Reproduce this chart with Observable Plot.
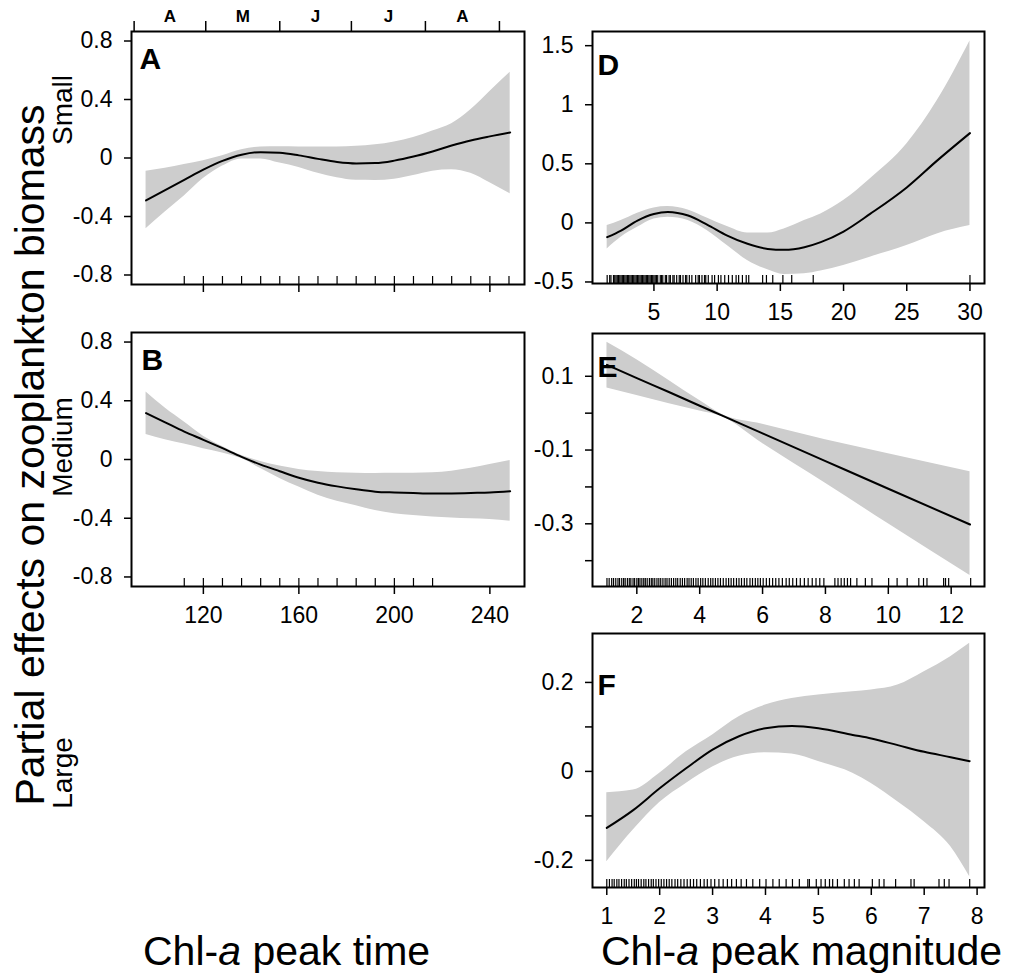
<!DOCTYPE html>
<html><head><meta charset="utf-8">
<script src="https://cdn.jsdelivr.net/npm/d3@7"></script>
<script src="https://cdn.jsdelivr.net/npm/@observablehq/plot@0.6"></script>
<style>
body{margin:0;background:#fff;}
#fig{position:relative;width:1009px;height:978px;font-family:"Liberation Sans",Arial,sans-serif;overflow:hidden;background:#fff;color:#000;}
#fig svg{position:absolute;}
.lab{position:absolute;white-space:nowrap;line-height:1;color:#000;}
.rot{transform:translate(-50%,-50%) rotate(-90deg);}
</style></head><body><div id="fig"></div>
<script>
// ---------- Data ----------
// Left column: Chl-a peak time (day of year)
const A_x   = [96, 104, 112, 120, 128, 136, 144, 152, 160, 168, 176, 184, 192, 200, 208, 216, 224, 232, 240, 248.5];
const A_fit = [-0.29, -0.22, -0.15, -0.08, -0.02, 0.022, 0.04, 0.036, 0.018, -0.006, -0.027, -0.037, -0.035, -0.018, 0.01, 0.045, 0.085, 0.12, 0.148, 0.175];
const A_hi  = [-0.09, -0.07, -0.045, -0.018, 0.016, 0.056, 0.075, 0.077, 0.076, 0.075, 0.076, 0.08, 0.09, 0.11, 0.14, 0.185, 0.235, 0.33, 0.455, 0.586];
const A_lo  = [-0.484, -0.37, -0.26, -0.141, -0.055, -0.006, -0.006, -0.035, -0.065, -0.105, -0.135, -0.152, -0.153, -0.145, -0.12, -0.09, -0.08, -0.105, -0.17, -0.245];
const A_rug = [112, 120, 128, 136, 144, 152, 160, 168, 176, 184, 192, 200, 208, 216, 224, 232, 240, 248];

const B_x   = A_x;
const B_fit = [0.316, 0.253, 0.19, 0.134, 0.077, 0.018, -0.035, -0.08, -0.124, -0.158, -0.183, -0.203, -0.219, -0.225, -0.229, -0.232, -0.231, -0.228, -0.225, -0.216];
const B_hi  = [0.459, 0.35, 0.255, 0.159, 0.089, 0.027, -0.013, -0.045, -0.068, -0.082, -0.09, -0.093, -0.095, -0.094, -0.093, -0.09, -0.08, -0.06, -0.034, -0.007];
const B_lo  = [0.17, 0.135, 0.105, 0.073, 0.045, 0.006, -0.062, -0.13, -0.188, -0.243, -0.285, -0.315, -0.348, -0.37, -0.382, -0.392, -0.399, -0.404, -0.409, -0.42];
const B_rug = [112, 120, 128, 136, 144, 152, 160, 168, 176, 184, 192, 200, 208, 216];

const monthStarts = [91, 121, 152, 182, 213, 244];
const monthMids   = [106, 136.5, 167, 197.5, 228.5];
const monthLabels = ["A", "M", "J", "J", "A"];
const timeTicks   = [120, 160, 200, 240];
const abTicksY    = [0.8, 0.4, 0, -0.4, -0.8];

// Right column: Chl-a peak magnitude
const D_x   = [1.3, 2.4, 3.7, 5.0, 6.1, 7.7, 9.2, 10.8, 12.4, 14.0, 15.3, 16.9, 18.2, 20.0, 22.1, 25.0, 27.4, 30.0];
const D_fit = [-0.121, -0.065, 0.02, 0.076, 0.093, 0.062, -0.014, -0.107, -0.177, -0.22, -0.228, -0.206, -0.163, -0.073, 0.076, 0.30, 0.527, 0.76];
const D_hi  = [-0.023, 0.02, 0.082, 0.127, 0.138, 0.11, 0.042, -0.031, -0.085, -0.085, -0.051, 0.02, 0.076, 0.189, 0.372, 0.668, 1.034, 1.54];
const D_lo  = [-0.22, -0.121, -0.037, 0.034, 0.048, 0.02, -0.065, -0.192, -0.318, -0.397, -0.437, -0.431, -0.408, -0.36, -0.29, -0.192, -0.093, -0.023];
const D_rug = [1.3,1.5,1.6,1.8,1.9,2.0,2.1,2.2,2.3,2.4,2.5,2.6,2.7,2.8,2.9,3.0,3.1,3.2,3.3,3.4,3.5,3.6,3.7,3.8,3.9,4.0,4.1,4.2,4.3,4.4,4.5,4.6,4.7,4.8,4.9,5.0,5.1,5.2,5.3,5.5,5.6,5.7,5.9,6.0,6.2,6.3,6.5,6.6,6.8,7.0,7.1,7.3,7.5,7.6,7.8,8.0,8.3,8.5,8.6,8.8,9.0,9.1,9.3,9.6,9.8,10.1,10.3,10.6,10.9,11.2,11.5,11.7,12.0,12.3,12.5,13.6,13.9,14.4,15.2,15.9,17.6,30.0];
const D_ticksX = [5, 10, 15, 20, 25, 30];
const D_ticksY = [1.5, 1, 0.5, 0, -0.5];

const E_x   = [1.05, 2, 3, 4, 4.7, 6, 8, 10, 12.6];
const E_fit = [0.131, 0.095, 0.058, 0.02, -0.006, -0.055, -0.13, -0.205, -0.302];
const E_hi  = [0.192, 0.145, 0.09, 0.034, -0.003, -0.03, -0.072, -0.11, -0.159];
const E_lo  = [0.068, 0.048, 0.026, 0.006, -0.009, -0.082, -0.19, -0.3, -0.44];
const E_rug = [1.05,1.12,1.2,1.26,1.33,1.4,1.45,1.52,1.58,1.63,1.7,1.76,1.81,1.88,1.93,2.0,2.05,2.1,2.16,2.22,2.27,2.33,2.4,2.46,2.51,2.57,2.64,2.7,2.76,2.83,2.9,2.96,3.03,3.1,3.17,3.24,3.3,3.38,3.45,3.52,3.6,3.66,3.73,3.8,3.88,3.95,4.03,4.1,4.18,4.27,4.35,4.42,4.5,4.58,4.66,4.75,4.84,4.92,5.0,5.08,5.17,5.25,5.33,5.42,5.5,5.6,5.68,5.77,5.85,5.93,6.02,6.12,6.22,6.32,6.42,6.52,6.63,6.75,6.85,6.96,7.08,7.2,7.33,7.45,7.58,7.7,7.82,7.95,8.3,8.4,8.5,8.6,8.7,8.8,9.0,9.27,9.48,10.01,10.28,10.6,10.97,11.12,11.23,11.76,11.82,11.92,12.62];
const E_ticksX = [2, 4, 6, 8, 10, 12];
const E_ticksY = [0.1, 0, -0.1, -0.2, -0.3, -0.4];
const E_labY   = [0.1, -0.1, -0.3];

const F_x   = [1.0, 1.5, 2.0, 2.5, 3.0, 3.5, 4.0, 4.5, 5.0, 5.65, 6.0, 6.5, 7.0, 7.5, 7.86];
const F_fit = [-0.127, -0.087, -0.038, 0.007, 0.049, 0.079, 0.097, 0.102, 0.097, 0.082, 0.074, 0.059, 0.044, 0.032, 0.023];
const F_hi  = [-0.048, -0.042, -0.004, 0.044, 0.082, 0.123, 0.149, 0.164, 0.172, 0.179, 0.183, 0.194, 0.224, 0.258, 0.288];
const F_lo  = [-0.203, -0.132, -0.07, -0.027, 0.01, 0.034, 0.042, 0.039, 0.022, -0.004, -0.027, -0.068, -0.113, -0.169, -0.237];
const F_rug = [1.0,1.05,1.1,1.14,1.19,1.23,1.28,1.33,1.37,1.42,1.47,1.52,1.56,1.6,1.65,1.7,1.74,1.79,1.84,1.88,1.93,1.98,2.03,2.08,2.13,2.18,2.23,2.29,2.34,2.4,2.46,2.52,2.58,2.64,2.7,2.77,2.84,2.9,2.97,3.04,3.12,3.2,3.28,3.36,3.45,3.54,3.64,3.76,3.89,4.01,4.14,4.26,4.39,4.51,4.64,4.8,4.83,4.96,5.05,5.13,5.21,5.27,5.36,5.49,5.58,5.68,5.77,6.02,6.15,6.24,6.46,6.75,6.81,7.28,7.38,7.47,7.86];
const F_ticksX = [1, 2, 3, 4, 5, 6, 7, 8];
const F_ticksY = [0.2, 0.1, 0, -0.1, -0.2];
const F_labY   = [0.2, 0, -0.2];

// ---------- Drawing ----------
const fig = document.getElementById("fig");
const BAND = "#cdcdcd";
const FONT = "'Liberation Sans', Arial, sans-serif";

function panel(c) {
  const ML = 100, MT = 40, MR = 14, MB = 50;
  const W = c.fw + ML + MR, H = c.fh + MT + MB;
  const data = c.x.map((x, i) => ({x, fit: c.fit[i], lo: c.lo[i], hi: c.hi[i]}));
  const marks = [
    Plot.areaY(data, {x: "x", y1: "lo", y2: "hi", fill: BAND, curve: "monotone-x"}),
    Plot.line(data, {x: "x", y: "fit", stroke: "#000", strokeWidth: 2, curve: "monotone-x"}),
    Plot.ruleX(c.rug, {x: d => d, insetTop: c.fh - 8, stroke: "#000", strokeWidth: 1.2}),
    Plot.axisY({ticks: c.yTicks, tickSize: 7, tickPadding: 12, strokeWidth: 1.5, fontSize: 23, label: null,
      tickFormat: d => (c.yLab.includes(d) ? String(d) : "")}),
    Plot.axisX({ticks: c.xTicks, tickSize: 8, tickPadding: 12, strokeWidth: 1.5, fontSize: 23, label: null,
      tickFormat: c.xLabels ? (d => String(d)) : (() => "")}),
    Plot.frame({stroke: "#000", strokeWidth: 2}),
    Plot.text([c.letter], {frameAnchor: "top-left", dx: c.ldx, dy: c.ldy, lineAnchor: "top", textAnchor: "start",
      fontSize: 30, fontWeight: "bold", fill: "#000"}),
    ...(c.extra || [])
  ];
  const svg = Plot.plot({
    width: W, height: H, marginLeft: ML, marginRight: MR, marginTop: MT, marginBottom: MB,
    x: {domain: c.xd, label: null}, y: {domain: c.yd, label: null},
    style: {background: "transparent", fontFamily: FONT, fontSize: "23px", color: "#000", overflow: "visible"},
    marks
  });
  svg.style.left = (c.fl - ML) + "px";
  svg.style.top = (c.ft - MT) + "px";
  fig.appendChild(svg);
}

panel({letter: "A", ldx: 8, ldy: 16, fl: 131, ft: 31, fw: 393, fh: 253,
  x: A_x, fit: A_fit, lo: A_lo, hi: A_hi, rug: A_rug, xd: [89.9, 254.5], yd: [-0.865, 0.865],
  xTicks: timeTicks, xLabels: false, yTicks: abTicksY, yLab: abTicksY,
  extra: [
    Plot.axisX({anchor: "top", ticks: monthStarts, tickSize: 11, strokeWidth: 1.5, label: null, tickFormat: () => ""}),
    Plot.text(monthLabels, {x: (d, i) => monthMids[i], frameAnchor: "top", dy: -15, lineAnchor: "middle",
      fontSize: 17, fontWeight: "bold", fill: "#000"})
  ]});

panel({letter: "B", ldx: 10, ldy: 16, fl: 131, ft: 332, fw: 393, fh: 254,
  x: B_x, fit: B_fit, lo: B_lo, hi: B_hi, rug: B_rug, xd: [89.9, 254.5], yd: [-0.865, 0.865],
  xTicks: timeTicks, xLabels: true, yTicks: abTicksY, yLab: abTicksY});

panel({letter: "D", ldx: 5, ldy: 22, fl: 592, ft: 31, fw: 392, fh: 252,
  x: D_x, fit: D_fit, lo: D_lo, hi: D_hi, rug: D_rug, xd: [0.14, 31.15], yd: [-0.513, 1.62],
  xTicks: D_ticksX, xLabels: true, yTicks: D_ticksY, yLab: D_ticksY});

panel({letter: "E", ldx: 5, ldy: 22, fl: 592, ft: 333, fw: 392, fh: 253,
  x: E_x, fit: E_fit, lo: E_lo, hi: E_hi, rug: E_rug, xd: [0.59, 13.06], yd: [-0.47, 0.216],
  xTicks: E_ticksX, xLabels: true, yTicks: E_ticksY, yLab: E_labY});

panel({letter: "F", ldx: 5, ldy: 40, fl: 592, ft: 633, fw: 392, fh: 254,
  x: F_x, fit: F_fit, lo: F_lo, hi: F_hi, rug: F_rug, xd: [0.73, 8.14], yd: [-0.261, 0.31],
  xTicks: F_ticksX, xLabels: true, yTicks: F_ticksY, yLab: F_labY});

// ---------- Titles ----------
function label(html, css) {
  const d = document.createElement("div");
  d.className = "lab" + (css.rot ? " rot" : "");
  d.innerHTML = html;
  Object.assign(d.style, css.style);
  fig.appendChild(d);
}
label("Partial effects on zooplankton biomass", {rot: true, style: {left: "30px", top: "455px", fontSize: "41px"}});
label("Small",  {rot: true, style: {left: "63px", top: "110px", fontSize: "28px"}});
label("Medium", {rot: true, style: {left: "63px", top: "447px", fontSize: "28px"}});
label("Large",  {rot: true, style: {left: "63px", top: "773px", fontSize: "28px"}});
label("Chl-<i>a</i> peak time", {style: {left: "143px", top: "931px", fontSize: "41px"}});
label("Chl-<i>a</i> peak magnitude", {style: {left: "601px", top: "931px", fontSize: "41px"}});
</script>
</body></html>
